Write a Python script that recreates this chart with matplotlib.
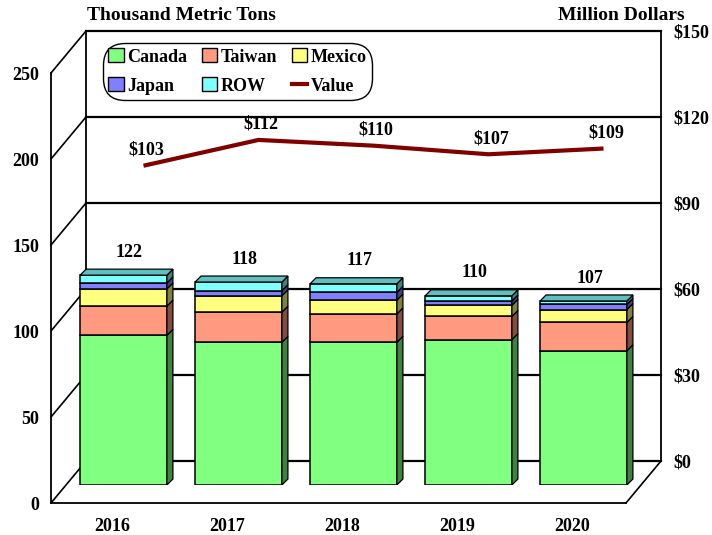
import matplotlib
matplotlib.use("Agg")
import matplotlib.pyplot as plt
from matplotlib.patches import ConnectionPatch, Patch, Polygon
from matplotlib.lines import Line2D

years = ["2016", "2017", "2018", "2019", "2020"]
canada = [87, 83, 83, 84.5, 78]
taiwan = [17, 17.5, 16.5, 13.5, 16.5]
mexico = [10, 9.5, 8, 6.5, 7.5]
japan = [3.5, 3, 4.5, 2.5, 3]
row = [4.5, 5, 5, 3, 2]
totals = [122, 118, 117, 110, 107]
value = [103, 112, 110, 107, 109]
ton_ticks = [0, 50, 100, 150, 200, 250]
dollar_ticks = [0, 30, 60, 90, 120, 150]
dollar_labels = ["$0", "$30", "$60", "$90", "$120", "$150"]

series = [canada, taiwan, mexico, japan, row]
names = ["Canada", "Taiwan", "Mexico", "Japan", "ROW"]
colors = ["#80FF80", "#FF9980", "#FFFF80", "#8080FF", "#80FFFF"]
sides = ["#408040", "#804D40", "#808040", "#404080", "#408080"]
top_color = "#60BFBF"

W, H = 712, 535
plt.rcParams["font.family"] = ["Liberation Serif"]
plt.rcParams["font.weight"] = "bold"
plt.rcParams["font.size"] = 13


def plane(fig, left, bottom_y, right, top_y):
    return fig.add_axes([left / W, 1 - bottom_y / H, (right - left) / W, (bottom_y - top_y) / H])


fig = plt.figure(figsize=(W / 100, H / 100), dpi=100)
front = plane(fig, 51, 503, 626, 73)
back = plane(fig, 86, 461, 661, 31)
bars = plane(fig, 66, 485, 641, 55)

for ax in (front, back, bars):
    ax.patch.set_visible(False)
    ax.set_xlim(-0.5, 4.5)
    for s in ax.spines.values():
        s.set_visible(False)
front.set_ylim(0, 250)
bars.set_ylim(0, 250)
back.set_ylim(0, 150)
bars.axis("off")

# front plane: left axis and years
front.spines["left"].set_visible(True)
front.spines["left"].set_linewidth(1.3)
front.spines["bottom"].set_visible(True)
front.spines["bottom"].set_linewidth(1.3)
front.set_yticks(ton_ticks)
front.set_xticks([i + 0.03 for i in range(len(years))])
front.set_xticklabels(years)
front.tick_params(axis="y", length=0, pad=8.6, labelsize=13)
front.tick_params(axis="x", length=0, pad=10.5, labelsize=13)

# back plane: gridlines and dollar axis
back.yaxis.tick_right()
back.set_yticks(dollar_ticks)
back.set_yticklabels(dollar_labels)
back.set_xticks([])
back.tick_params(axis="y", length=0, pad=9, labelsize=13)
back.spines["left"].set_visible(True)
back.spines["right"].set_visible(True)
back.spines["left"].set_linewidth(1.3)
back.spines["right"].set_linewidth(1.3)
back.grid(axis="y", color="black", linewidth=1.6, clip_on=False)
back.set_axisbelow(True)

# wall and floor diagonals, added to the front axes so the bars sit on top
for t, d in zip(ton_ticks, dollar_ticks):
    front.add_artist(ConnectionPatch((-0.5, t), (-0.5, d), "data", "data", axesA=front, axesB=back,
                                     color="black", linewidth=1.2, clip_on=False))
front.add_artist(ConnectionPatch((4.5, 0), (4.5, 0), "data", "data", axesA=front, axesB=back,
                                 color="black", linewidth=1.2, clip_on=False))

# stacked bars with 3d faces
width = 0.755
dx = 6 / 115
dy = 6 / 1.72
for i in range(len(years)):
    base = 0
    x0 = i - width / 2
    x1 = i + width / 2
    for vals, c, side in zip(series, colors, sides):
        v = vals[i]
        bars.bar(i, v, width, bottom=base, color=c, edgecolor="black", linewidth=1.1, zorder=3)
        bars.add_patch(Polygon([(x1, base), (x1 + dx, base + dy), (x1 + dx, base + v + dy), (x1, base + v)],
                               facecolor=side, edgecolor="black", linewidth=0.9, zorder=3))
        base += v
    bars.add_patch(Polygon([(x0, base), (x0 + dx, base + dy), (x1 + dx, base + dy), (x1, base)],
                           facecolor=top_color, edgecolor="black", linewidth=0.9, zorder=3))
    bars.annotate(str(totals[i]), (i + dx, totals[i] + dy), xytext=(0, 6), textcoords="offset points",
                  ha="center", va="bottom", fontsize=13)

# value line
back.plot(range(len(years)), value, color="#800000", linewidth=3, zorder=4, solid_capstyle="butt")
for i, v in enumerate(value):
    back.annotate("$%d" % v, (i, v), xytext=(2, 5), textcoords="offset points",
                  ha="center", va="bottom", fontsize=13)

# legend, stretched to the box width of the reference
handles = [Patch(facecolor=c, edgecolor="black", linewidth=1) for c in colors]
handles.append(Line2D([0], [0], color="#800000", linewidth=3))
labels = names + ["Value"]
order = [0, 3, 1, 4, 2, 5]
leg = bars.legend([handles[k] for k in order], [labels[k] for k in order], ncol=3, mode="expand",
                  loc="upper left", bbox_to_anchor=(37 / 575, 1.028 - 58 / 430, 269 / 575, 58 / 430),
                  borderaxespad=0, frameon=True, fancybox=True, edgecolor="black", facecolor="white",
                  framealpha=1, handlelength=0.85, handleheight=0.8, handletextpad=0.2,
                  labelspacing=0.66, borderpad=0.3, fontsize=13)
leg.get_frame().set_linewidth(1)
leg.get_frame().set_boxstyle("round", rounding_size=1.2, pad=0)
leg.set_zorder(6)

fig.text(87 / W, 1 - 16 / H, "Thousand Metric Tons", ha="left", va="center", fontsize=14)
fig.text(685 / W, 1 - 16 / H, "Million Dollars", ha="right", va="center", fontsize=14)

fig.savefig("out.png", dpi=100)
